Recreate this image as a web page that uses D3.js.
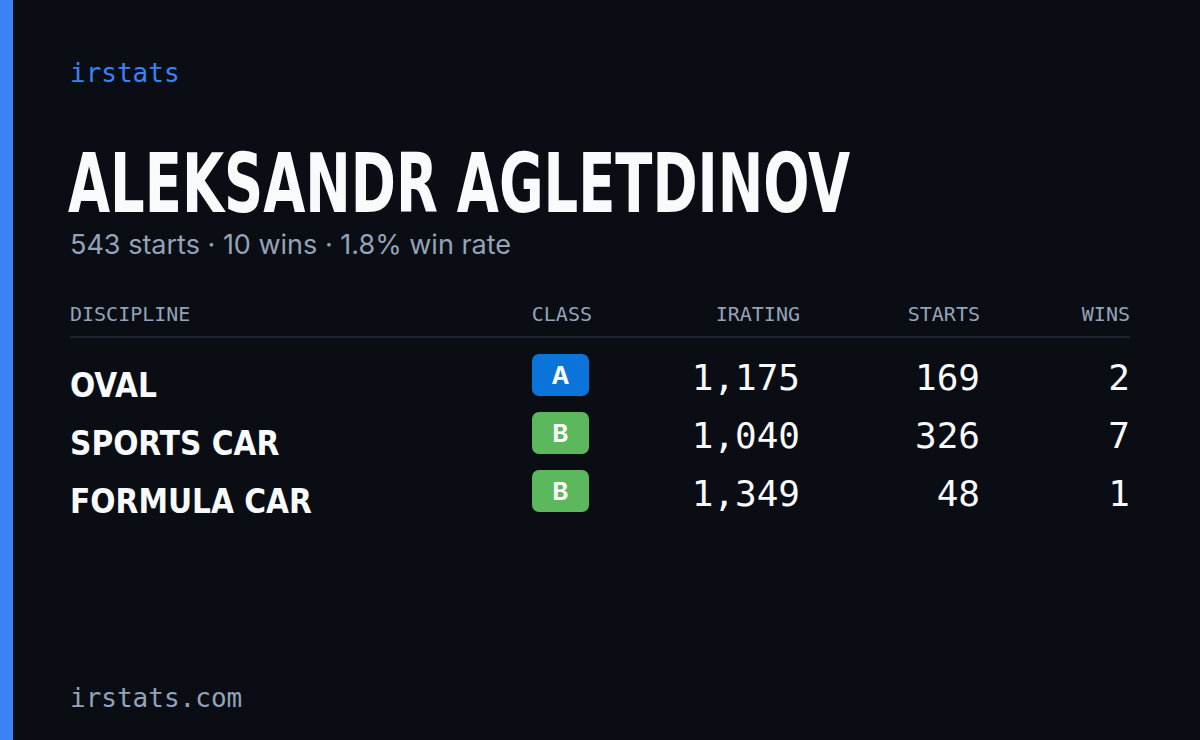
<!DOCTYPE html>
<html><head><meta charset="utf-8">
<script src="https://cdn.jsdelivr.net/npm/d3@7"></script>
<style>body{margin:0;background:#0a0d14}</style>
</head><body>
<svg id="c" width="1200" height="740"></svg>
<script>
const driver = "ALEKSANDR AGLETDINOV";
const summary = "543 starts · 10 wins · 1.8% win rate";
const columns = ["DISCIPLINE","CLASS","IRATING","STARTS","WINS"];
const disciplines = ["OVAL","SPORTS CAR","FORMULA CAR"];
const classes = ["A","B","B"];
const iratings = [1175,1040,1349];
const starts = [169,326,48];
const wins = [2,7,1];
const classColors = {A:"#0a74da",B:"#5cb85c"};

const svg = d3.select("#c");
svg.append("rect").attr("width",1200).attr("height",740).attr("fill","#0a0d14");
svg.append("rect").attr("width",13).attr("height",740).attr("fill","#3b82f6");
const mono = "'DejaVu Sans Mono','Liberation Mono',monospace";
const cond = "'Liberation Sans Narrow','DejaVu Sans Condensed','Roboto',sans-serif";
svg.append("text").attr("x",70).attr("y",82).text("irstats").attr("font-family",mono).attr("font-size",26).attr("fill","#3b82f6");
svg.append("text").attr("x",68).attr("y",212).text(driver).attr("font-family",cond).attr("font-weight",700)
  .attr("font-size",82).attr("fill","#f8fafc").attr("textLength",782).attr("lengthAdjust","spacingAndGlyphs");
svg.append("text").attr("x",70).attr("y",254).text(summary).attr("font-family","Inter,'Noto Sans',sans-serif").attr("font-size",27).attr("fill","#94a3b8");

const colX = [70,592,800,980,1130];
const anchors = ["start","end","end","end","end"];
columns.forEach((c,i)=>svg.append("text").attr("x",colX[i]).attr("y",321).text(c)
  .attr("font-family",mono).attr("font-size",20).attr("fill","#94a3b8").attr("text-anchor",anchors[i]));
svg.append("line").attr("x1",70).attr("x2",1130).attr("y1",337).attr("y2",337).attr("stroke","#1e2430").attr("stroke-width",2);

const y = d3.scaleBand().domain(disciplines).range([346,520]);
const fmt = d3.format(",");
const rows = svg.selectAll("g.r").data(disciplines).join("g").attr("transform",d=>`translate(0,${y(d)})`);
rows.append("text").attr("x",70).attr("y",51).text(d=>d).attr("font-family",cond).attr("font-weight",700)
  .attr("font-size",33).attr("fill","#f8fafc");
rows.append("rect").attr("x",532).attr("y",8).attr("width",57).attr("height",42).attr("rx",7)
  .attr("fill",(d,i)=>classColors[classes[i]]);
rows.append("text").attr("x",560.5).attr("y",38).attr("text-anchor","middle").text((d,i)=>classes[i])
  .attr("font-family","Inter,'Noto Sans',sans-serif").attr("font-weight",700).attr("font-size",24).attr("fill","#fff");
[iratings,starts,wins].forEach((arr,k)=>rows.append("text").attr("x",colX[k+2]).attr("y",44).attr("text-anchor","end")
  .text((d,i)=>k===0?fmt(arr[i]):arr[i]).attr("font-family",mono).attr("font-weight",500).attr("font-size",36).attr("fill","#f8fafc"));
svg.append("text").attr("x",70).attr("y",707).text("irstats.com").attr("font-family",mono).attr("font-size",26).attr("fill","#94a3b8");
</script></body></html>
